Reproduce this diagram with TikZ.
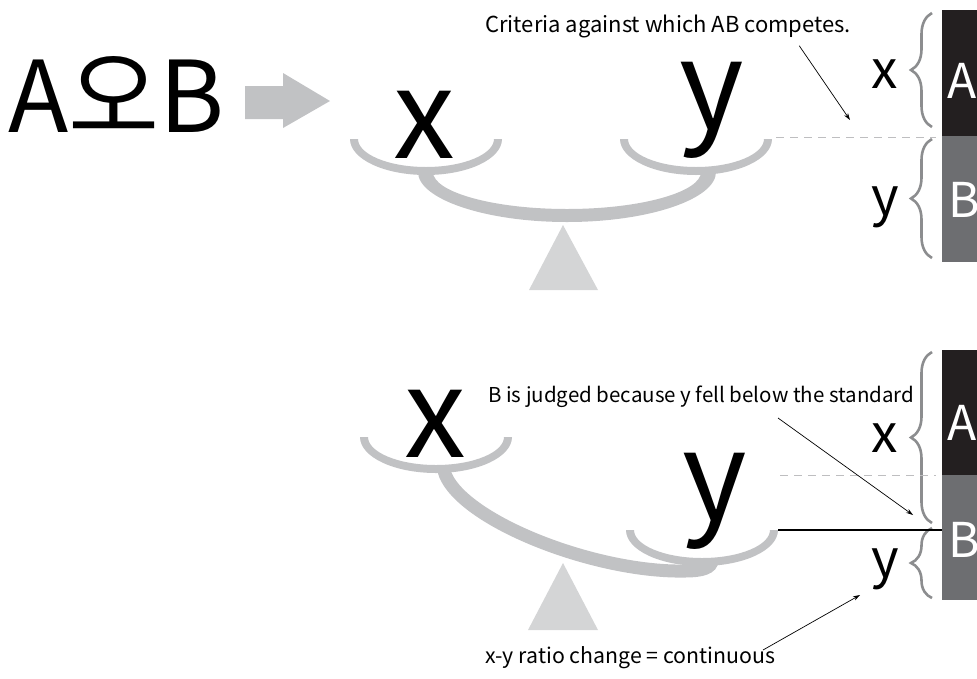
\documentclass[tikz,border=0pt]{standalone}
\usepackage{fontspec}
\setmainfont{Noto Sans CJK KR}
\definecolor{beamgray}{RGB}{193,194,196}
\definecolor{footgray}{RGB}{212,213,214}
\definecolor{bracegray}{RGB}{140,141,143}
\definecolor{dashgray}{RGB}{190,190,192}
\definecolor{boxdark}{RGB}{35,31,32}
\definecolor{boxgray}{RGB}{109,110,113}
\usetikzlibrary{
	arrows.meta,
	positioning,
	decorations.pathreplacing
}
\tikzset{
  % arrow
	cstra/.style      ={-{Stealth[length=7pt,width=4.5pt]}, line width=0.7pt},
  % line
	cstdash/.style    ={dashgray, line width=1pt, dash pattern=on 8pt off 6pt},
	cstbrace/.style   ={bracegray, line width=2.6pt, decorate, decoration={brace, amplitude=21pt}},
  % fill
	cstbeam/.style    ={fill=beamgray},
	cstfoot/.style    ={fill=footgray},
  % text
	cstbig/.style     ={font=\fontsize{124}{124}\selectfont, inner sep=0pt, anchor=base, text height=0.56em},
	cstmid/.style     ={font=\fontsize{53}{53}\selectfont, inner sep=0pt, anchor=base},
	cstbox/.style     ={font=\fontsize{48}{48}\selectfont, inner sep=0pt, anchor=base west, text=white},
	cstnote/.style    ={font=\fontsize{22}{22}\selectfont, inner sep=0pt, anchor=base west},
  % pan
	pan/.pic={
		\fill[cstbeam] (-76,0) .. controls (-76,20) and (-42,36) .. (0,36)
			.. controls (42,36) and (76,20) .. (76,0) -- (68,0)
			.. controls (68,15) and (38,28) .. (0,28)
			.. controls (-38,28) and (-68,15) .. (-68,0) -- cycle;
	}
}
\begin{document}
\begin{tikzpicture}[x=1pt,y=-1pt]
	\useasboundingbox (0,0) rectangle (977,678);
	% title
	\node[font=\fontsize{99}{99}\selectfont, inner sep=0pt, anchor=base west] (AoB) at (8,132) {A오B};
	\fill[beamgray] (245,86)--(283,86)--(283,73)--(330,101)--(283,128)--(283,119)--(245,119)--cycle;
	% upper balance
	\fill[cstbeam] (418,172) .. controls (418,199) and (485,222) .. (567,222)
		.. controls (649,222) and (716,199) .. (716,172) -- (701,172)
		.. controls (701,192) and (641,209) .. (567,209)
		.. controls (493,209) and (433,192) .. (433,172) -- cycle;
	\pic at (426,139) {pan};
	\pic at (696,139) {pan};
	\fill[cstfoot] (563,225) -- (529,290) -- (598,290) -- cycle;
	\node[cstbig] (x1) at (424,158) {x};
	\node[cstbig] (y1) at (712,129) {y};
	% upper bar
	\fill[boxdark] (942,10) rectangle (977,136);
	\fill[boxgray] (942,136) rectangle (977,262);
	\node[cstbox] (A1) at (947,98) {A};
	\node[cstbox] (B1) at (948,217) {B};
	\draw[cstbrace] (932,127) -- (932,13);
	\draw[cstbrace] (932,258) -- (932,139);
	\node[cstmid] (lx1) at (885,88) {x};
	\node[cstmid] (ly1) at (885,215) {y};
	\draw[cstdash] (776,137) -- (936,137);
	\node[cstnote] (crit) at (485,32) {Criteria against which AB competes.};
	\coordinate (crittip) at (850,120);
	\draw[cstra] (crit.south east) ++(-52,8) coordinate (critfrom) (critfrom) -- (crittip);
	% lower balance
	\draw[beamgray, line width=13pt] (443,466) .. controls (448,515) and (590,573) .. (685,571)
		.. controls (702,571) and (712,568) .. (712,560);
	\pic at (436,437) {pan};
	\pic at (702,530) {pan};
	\fill[cstfoot] (563,563) -- (528,630) -- (598,630) -- cycle;
	\node[cstbig] (x2) at (435,457) {x};
	\node[cstbig] (y2) at (715,520) {y};
	% lower bar
	\fill[boxdark] (942,350) rectangle (977,475);
	\fill[boxgray] (942,475) rectangle (977,600);
	\node[cstbox] (A2) at (947,440) {A};
	\node[cstbox] (B2) at (948,557) {B};
	\draw[cstbrace] (932,523) -- (932,352);
	\draw[cstbrace] (932,598) -- (932,528);
	\node[cstmid] (lx2) at (885,452) {x};
	\node[cstmid] (ly2) at (885,577) {y};
	\draw[cstdash] (780,475) -- (936,475);
	\coordinate (ypan) at (778,530);
	\coordinate (Btop) at (942,530);
	\draw[line width=1.2pt] (ypan) -- (Btop);
	\node[cstnote, font=\fontsize{20.5}{20.5}\selectfont] (judged) at (488,402) {B is judged because y fell below the standard};
	\coordinate (judgedfrom) at (778,418);
	\coordinate (judgedtip) at (913,515);
	\draw[cstra] (judgedfrom) -- (judgedtip);
	\node[cstnote, font=\fontsize{21.3}{21.3}\selectfont] (ratio) at (485,663) {x-y ratio change = continuous};
	\coordinate (ratiofrom) at (763,650);
	\coordinate (ratiotip) at (860,595);
	\draw[cstra] (ratiofrom) -- (ratiotip);
\end{tikzpicture}
\end{document}
